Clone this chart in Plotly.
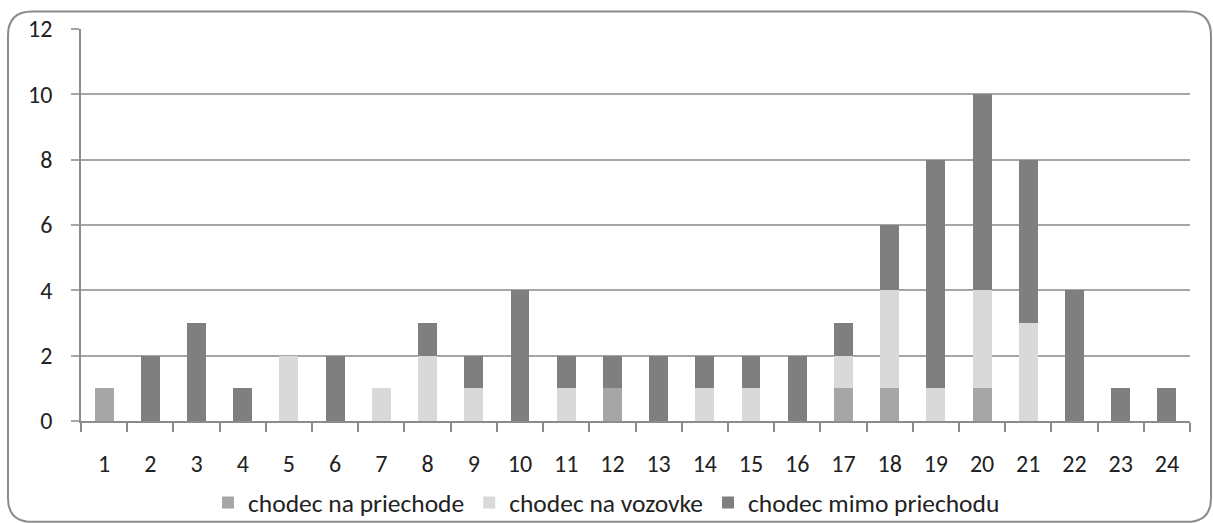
import plotly.graph_objects as go

hours = [str(h) for h in range(1, 25)]
na_priechode = [1, 0, 0, 0, 0, 0, 0, 0, 0, 0, 0, 1, 0, 0, 0, 0, 1, 1, 0, 1, 0, 0, 0, 0]
na_vozovke = [0, 0, 0, 0, 2, 0, 1, 2, 1, 0, 1, 0, 0, 1, 1, 0, 1, 3, 1, 3, 3, 0, 0, 0]
mimo_priechodu = [0, 2, 3, 1, 0, 2, 0, 1, 1, 4, 1, 1, 2, 1, 1, 2, 1, 2, 7, 6, 5, 4, 1, 1]

series_names = ["chodec na priechode", "chodec na vozovke", "chodec mimo priechodu"]
series_colors = ["#a6a6a6", "#d9d9d9", "#7f7f7f"]
y_ticks = [0, 2, 4, 6, 8, 10, 12]

W, H = 1213, 523
L, R, T, B = 81, 1190, 28.5, 421
FONT = "Carlito, Lato, 'Noto Sans', sans-serif"

fig = go.Figure()
for name, vals, color in zip(series_names, [na_priechode, na_vozovke, mimo_priechodu], series_colors):
    fig.add_trace(go.Bar(x=hours, y=vals, name=name, marker=dict(color=color, line=dict(width=0))))

# rounded chart frame, expressed in paper coordinates
pw, ph = R - L, B - T
def px(x):
    return (x - L) / pw
def py(y):
    return (B - y) / ph

x0, x1, y0, y1, r = 8, 1211, 11, 522, 24
path = (
    f"M {px(x0 + r)},{py(y0)} L {px(x1 - r)},{py(y0)} "
    f"Q {px(x1)},{py(y0)} {px(x1)},{py(y0 + r)} "
    f"L {px(x1)},{py(y1 - r)} Q {px(x1)},{py(y1)} {px(x1 - r)},{py(y1)} "
    f"L {px(x0 + r)},{py(y1)} Q {px(x0)},{py(y1)} {px(x0)},{py(y1 - r)} "
    f"L {px(x0)},{py(y0 + r)} Q {px(x0)},{py(y0)} {px(x0 + r)},{py(y0)} Z"
)
fig.add_shape(type="path", path=path, xref="paper", yref="paper",
              line=dict(color="#8c8c8c", width=2), layer="below")

fig.update_layout(
    width=W, height=H,
    margin=dict(l=L, r=W - R, t=T, b=H - B, pad=0, autoexpand=False),
    paper_bgcolor="white", plot_bgcolor="white",
    barmode="stack", bargap=0.59,
    font=dict(family=FONT, size=24, color="#222222"),
    showlegend=True,
    legend=dict(orientation="h", x=px(208), xanchor="left", y=py(503), yanchor="middle",
                font=dict(size=25.5), traceorder="normal", itemwidth=30,
                bgcolor="rgba(0,0,0,0)"),
)
fig.update_xaxes(
    type="category", showgrid=False, showline=True, linecolor="#8c8c8c", linewidth=1.5,
    ticks="outside", tickson="boundaries", ticklen=9, tickcolor="#8c8c8c", tickwidth=1.5,
    ticklabelstandoff=20, tickfont=dict(size=24),
)
fig.update_yaxes(
    range=[0, 12], tickvals=y_ticks, showgrid=True, gridcolor="#a6a6a6", gridwidth=1.5,
    showline=True, linecolor="#8c8c8c", linewidth=1.5, zeroline=False,
    ticks="outside", ticklen=8, tickcolor="#a6a6a6", tickwidth=1.5,
    ticklabelstandoff=14, tickfont=dict(size=24),
)

fig.write_html("out.html")
